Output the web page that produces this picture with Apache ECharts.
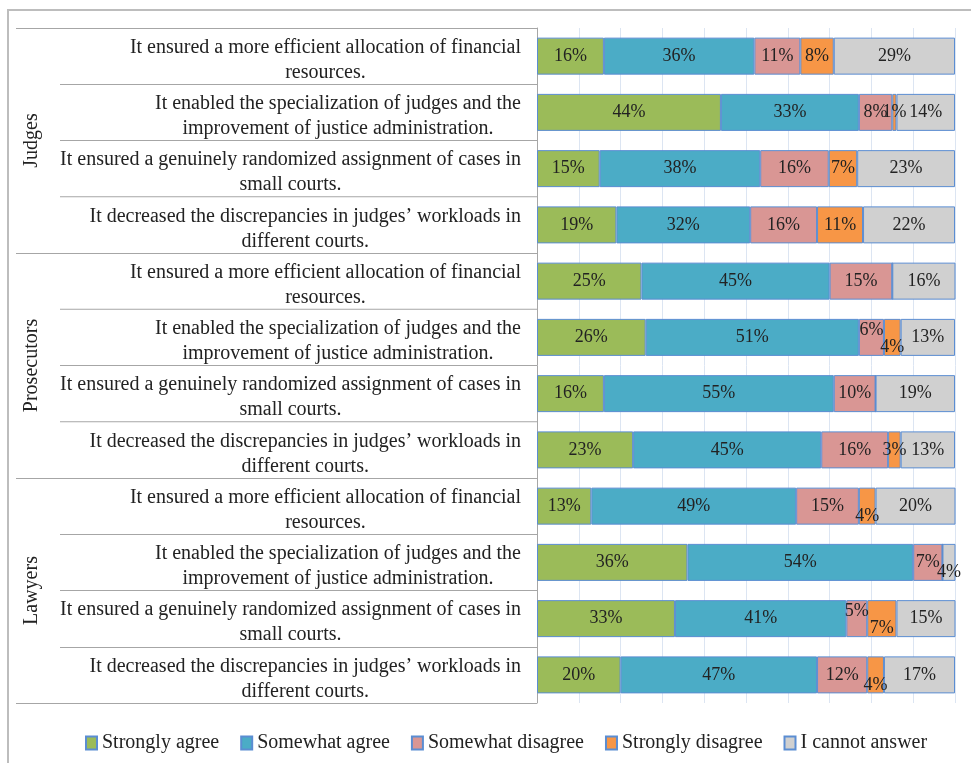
<!DOCTYPE html>
<html>
<head>
<meta charset="utf-8">
<script src="https://cdn.jsdelivr.net/npm/echarts@6/dist/echarts.min.js"></script>
<style>
  html, body { margin: 0; padding: 0; background: #fff; }
  #chart { width: 971px; height: 763px; }
</style>
</head>
<body>
<div id="chart"></div>
<script>
// respondent groups and the four statements asked to each
var groups = ['Judges', 'Prosecutors', 'Lawyers'];
var statements = [
  'It ensured a more efficient allocation of financial\nresources.',
  'It enabled the specialization of judges and the\nimprovement of justice administration.',
  'It ensured a genuinely randomized assignment of cases in\nsmall courts.',
  'It decreased the discrepancies in judges\u2019 workloads in\ndifferent courts.'
];
var answers = ['Strongly agree', 'Somewhat agree', 'Somewhat disagree', 'Strongly disagree', 'I cannot answer'];

// percentages, one value per row (Judges x4, Prosecutors x4, Lawyers x4)
var stronglyAgree    = [16, 44, 15, 19, 25, 26, 16, 23, 13, 36, 33, 20];
var somewhatAgree    = [36, 33, 38.4, 32, 45, 51, 55, 45, 49, 54, 41, 47];
var somewhatDisagree = [11, 8, 16.4, 16, 15, 6, 10, 16, 15, 7, 5, 12];
var stronglyDisagree = [8, 1, 6.8, 11, 0, 4, 0, 3, 4, 0, 7, 4];
var cannotAnswer     = [29, 14, 23.4, 22, 16, 13, 19, 13, 20, 4, 15, 17];

var colors = ['#9bbb59', '#4bacc6', '#d99694', '#f79646', '#d0d0d0'];
var serif = "'Liberation Serif', 'DejaVu Serif', serif";

var rowLabels = [];
groups.forEach(function () {
  statements.forEach(function (s) { rowLabels.push(s); });
});

var seriesData = [stronglyAgree, somewhatAgree, somewhatDisagree, stronglyDisagree, cannotAnswer];

var myChart = echarts.init(document.getElementById('chart'));

function valAt(s, d) {
  if (s < 0 || s >= seriesData.length) return 0;
  return Math.round(seriesData[s][d]);
}

// small labels get nudged up/down like Excel does when crowded
function nudgeLabel(params) {
  var s = params.seriesIndex, d = params.dataIndex;
  var v = valAt(s, d);
  var prev = valAt(s - 1, d), next = valAt(s + 1, d);
  var smallNeighbour = (prev > 0 && prev <= 7) || (next > 0 && next <= 7);
  if ((v >= 4 && v <= 5) || (v >= 6 && v <= 7 && smallNeighbour)) {
    return { dy: s === 2 ? -7 : 10 };
  }
  return {};
}

myChart.setOption({
  backgroundColor: '#fff',
  color: colors,
  animation: false,
  graphic: [{
    type: 'rect',
    shape: { x: 8, y: 10, width: 1000, height: 800 },
    style: { fill: 'none', stroke: '#bdbdbd', lineWidth: 2 },
    silent: true
  }],
  legend: {
    data: answers,
    bottom: 5,
    left: 80,
    itemWidth: 11,
    itemHeight: 13,
    itemGap: 21,
    icon: 'rect',
    textStyle: { fontFamily: serif, fontSize: 20, color: '#222' }
  },
  grid: {
    left: 537,
    right: 16,
    top: 28,
    bottom: 60,
    outerBoundsMode: 'none'
  },
  xAxis: {
    type: 'value',
    min: 0,
    max: 100,
    interval: 10,
    axisLabel: { show: false },
    axisLine: { show: false },
    axisTick: { show: false },
    splitLine: { lineStyle: { color: '#dce5f2', width: 1 } }
  },
  yAxis: [
    {
      type: 'category',
      data: rowLabels,
      inverse: true,
      axisLine: { show: true, lineStyle: { color: '#a6a6a6', width: 1 } },
      axisTick: { show: true, interval: 0, length: 477, lineStyle: { color: '#a6a6a6' } },
      axisLabel: {
        interval: 0,
        margin: 16,
        align: 'right',
        padding: [8, 0, 0, 0],
        formatter: function (v) {
          return v.split('\n').map(function (l) { return '{c|' + l + '}'; }).join('\n');
        },
        rich: {
          c: { align: 'center', fontFamily: serif, fontSize: 20, lineHeight: 25, color: '#222' }
        }
      }
    },
    {
      type: 'category',
      data: groups,
      inverse: true,
      position: 'left',
      offset: 0,
      axisLine: { show: false },
      axisTick: { show: true, interval: 0, length: 521, lineStyle: { color: '#a6a6a6' } },
      axisLabel: {
        interval: 0,
        rotate: 90,
        margin: 495,
        fontFamily: serif,
        fontSize: 20,
        color: '#222'
      }
    }
  ],
  series: answers.map(function (name, i) {
    return {
      name: name,
      type: 'bar',
      stack: 'total',
      yAxisIndex: 0,
      barWidth: 37,
      data: seriesData[i],
      itemStyle: { borderColor: '#5b8dd2', borderWidth: 1 },
      label: {
        show: true,
        position: 'inside',
        offset: [0, 2],
        fontFamily: serif,
        fontSize: 18,
        color: '#222',
        formatter: function (p) { return p.value > 0 ? Math.round(p.value) + '%' : ''; }
      },
      labelLayout: nudgeLabel
    };
  })
});
</script>
</body>
</html>
